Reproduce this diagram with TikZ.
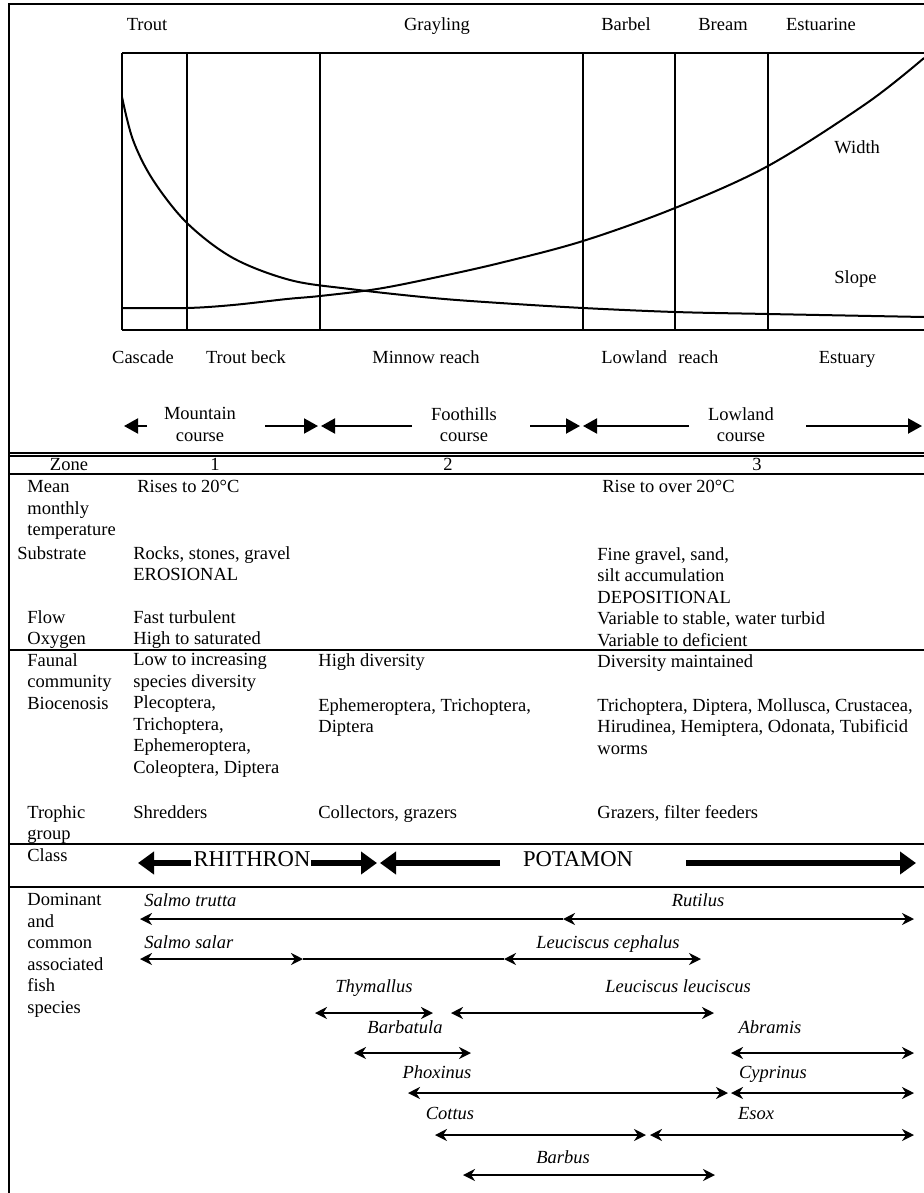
\documentclass[tikz,border=0pt]{standalone}
\usepackage{fontspec}
\setmainfont{Liberation Serif}
\usetikzlibrary{arrows.meta}

\newcommand{\txtsize}{\fontsize{9.25}{10.75}\selectfont}

\tikzset{
  rowlabel/.style={anchor=north west, align=left, inner sep=0pt},
  cell/.style={anchor=north west, align=left, inner sep=0pt},
  headtext/.style={anchor=base, inner sep=0pt},
  coursetext/.style={anchor=north, align=center, inner sep=0pt},
  fishname/.style={anchor=base, inner sep=0pt, font=\txtsize\itshape},
  classtext/.style={anchor=base, inner sep=0pt, font=\fontsize{11.3}{13}\selectfont},
  course/.style={line width=1pt, -{Triangle[length=7pt,width=7.5pt]}},
  classarrow/.style={line width=3pt, -{Triangle[length=8pt,width=11pt]}},
  fishrange/.style={line width=1.2pt, {Stealth[length=6pt,width=6pt]}-{Stealth[length=6pt,width=6pt]}},
  fishrangeleft/.style={line width=1.2pt, -{Stealth[length=6pt,width=6pt]}},
  rule/.style={line width=1pt},
}

\begin{document}
\begin{tikzpicture}[x=0.5pt, y=-0.5pt, font=\txtsize]

	\useasboundingbox (0,0) rectangle (924,1193);
	\draw[line width=1.3pt] (9,1193) -- (9,4) -- (924,4);

	% fish zones over the profile
	\node[headtext] (trout) at (147,31) {Trout};
	\node[headtext] (grayling) at (437,31) {Grayling};
	\node[headtext] (barbel) at (626,31) {Barbel};
	\node[headtext] (bream) at (723,31) {Bream};
	\node[headtext] (estuarine) at (821,31) {Estuarine};

	% profile box
	\draw[line width=1.2pt] (122,53) -- (924,53);
	\draw[rule] (122,330) -- (924,330);
	\foreach \xx in {122,187,320,583,675,768}
		\draw[rule] (\xx,53) -- (\xx,330);

	% slope and width
	\draw[rule] plot[smooth, tension=0.55] coordinates {(122,97) (133,140) (153,180) (187,223) (233,258) (290,280) (350,289) (433,298) (500,303) (583,308) (675,312) (768,314) (924,317)};
	\draw[rule] plot[smooth, tension=0.55] coordinates {(122,308) (187,308) (233,305) (287,299) (320,296) (377,289) (433,278) (500,263) (583,241) (675,208) (768,166) (867,103) (924,58)};
	\node[anchor=base west, inner sep=0pt] (width) at (834,154) {Width};
	\node[anchor=base west, inner sep=0pt] (slope) at (834,283) {Slope};

	% reaches
	\node[headtext] (cascade) at (143,363) {Cascade};
	\node[headtext] (troutbeck) at (246,363) {Trout beck};
	\node[headtext] (minnow) at (426,363) {Minnow reach};
	\node[anchor=base west, inner sep=0pt] (lowreach) at (601,363) {Lowland\hspace{0.6em}reach};
	\node[headtext] (estuary) at (847,363) {Estuary};

	% courses
	\node[coursetext] (mountain) at (200,407) {Mountain\\course};
	\node[coursetext] (foothills) at (464,407) {Foothills\\course};
	\node[coursetext] (lowland) at (741,407) {Lowland\\course};
	\coordinate (m0) at (124,426);
	\coordinate (m1) at (147,426);
	\coordinate (m2) at (265,426);
	\coordinate (m3) at (318,426);
	\coordinate (f0) at (321,426);
	\coordinate (f1) at (412,426);
	\coordinate (f2) at (530,426);
	\coordinate (f3) at (580,426);
	\coordinate (l0) at (583,426);
	\coordinate (l1) at (689,426);
	\coordinate (l2) at (806,426);
	\coordinate (l3) at (922,426);
	\draw[course] (m1) -- (m0);
	\draw[course] (m2) -- (m3);
	\draw[course] (f1) -- (f0);
	\draw[course] (f2) -- (f3);
	\draw[course] (l1) -- (l0);
	\draw[course] (l2) -- (l3);

	% table rules
	\draw[line width=0.6pt] (9,453) -- (924,453);
	\draw[line width=0.6pt] (9,456) -- (924,456);
	\draw[line width=0.8pt] (9,474) -- (924,474);
	\draw[rule] (9,650) -- (924,650);
	\draw[rule] (9,844) -- (924,844);
	\draw[line width=1.3pt] (9,887) -- (924,887);

	% zone row
	\node[headtext] (zone) at (69,470) {Zone};
	\node[headtext] (z1) at (215,470) {1};
	\node[headtext] (z2) at (448,470) {2};
	\node[headtext] (z3) at (757,470) {3};

	% row labels
	\node[rowlabel] (temp) at (27,480) {Mean\\monthly\\temperature};
	\node[rowlabel] (subs) at (17,546) {Substrate};
	\node[rowlabel] (flow) at (27,610) {Flow\\Oxygen};
	\node[rowlabel] (fauna) at (27,653) {Faunal\\community\\Biocenosis};
	\node[rowlabel] (trophic) at (27,805) {Trophic\\group};
	\node[rowlabel] (class) at (27,848) {Class};
	\node[rowlabel] (fish) at (27,893) {Dominant\\and\\common\\associated\\fish\\species};

	% zone 1
	\node[cell] (temp1) at (137,480) {Rises to 20°C};
	\node[cell] (subs1) at (133,546) {Rocks, stones, gravel\\EROSIONAL};
	\node[cell] (flow1) at (133,610) {Fast turbulent\\High to saturated};
	\node[cell] (fauna1) at (133,653) {Low to increasing\\species diversity\\Plecoptera,\\Trichoptera,\\Ephemeroptera,\\Coleoptera, Diptera};
	\node[cell] (trophic1) at (133,805) {Shredders};

	% zone 2
	\node[cell] (fauna2) at (318,653) {High diversity};
	\node[cell] (bio2) at (318,698) {Ephemeroptera, Trichoptera,\\Diptera};
	\node[cell] (trophic2) at (318,805) {Collectors, grazers};

	% zone 3
	\node[cell] (temp3) at (602,480) {Rise to over 20°C};
	\node[cell] (subs3) at (597,547) {Fine gravel, sand,\\silt accumulation\\DEPOSITIONAL\\Variable to stable, water turbid\\Variable to deficient};
	\node[cell] (fauna3) at (597,654) {Diversity maintained};
	\node[cell] (bio3) at (597,698) {Trichoptera, Diptera, Mollusca, Crustacea,\\Hirudinea, Hemiptera, Odonata, Tubificid\\worms};
	\node[cell] (trophic3) at (597,805) {Grazers, filter feeders};

	% class
	\node[classtext] (rhithron) at (252,866) {RHITHRON};
	\node[classtext] (potamon) at (578,866) {POTAMON};
	\coordinate (r0) at (138,863);
	\coordinate (r1) at (191,863);
	\coordinate (r2) at (311,863);
	\coordinate (r3) at (377,863);
	\coordinate (p0) at (380,863);
	\coordinate (p1) at (500,863);
	\coordinate (p2) at (686,863);
	\coordinate (p3) at (916,863);
	\draw[classarrow] (r1) -- (r0);
	\draw[classarrow] (r2) -- (r3);
	\draw[classarrow] (p1) -- (p0);
	\draw[classarrow] (p2) -- (p3);

	% fish species ranges
	\node[fishname, anchor=base west] (trutta) at (144,906) {Salmo trutta};
	\node[fishname] (rutilus) at (698,906) {Rutilus};
	\coordinate (st) at (140,919);
	\coordinate (ru1) at (563,919);
	\coordinate (ru2) at (914,919);
	\draw[fishrangeleft] (ru1) -- (st);
	\draw[fishrange] (ru1) -- (ru2);

	\node[fishname, anchor=base west] (salar) at (144,948) {Salmo salar};
	\node[fishname] (cephalus) at (608,948) {Leuciscus cephalus};
	\coordinate (ss1) at (140,959);
	\coordinate (ss2) at (303,959);
	\coordinate (lc1) at (504,959);
	\coordinate (lc2) at (701,959);
	\draw[fishrange] (ss1) -- (ss2);
	\draw[line width=1.2pt] (ss2) -- (lc1);
	\draw[fishrange] (lc1) -- (lc2);

	\node[fishname] (thymallus) at (374,992) {Thymallus};
	\node[fishname] (leuciscus) at (678,992) {Leuciscus leuciscus};
	\coordinate (th1) at (315,1013);
	\coordinate (th2) at (433,1013);
	\coordinate (ll1) at (451,1013);
	\coordinate (ll2) at (714,1013);
	\draw[fishrange] (th1) -- (th2);
	\draw[fishrange] (ll1) -- (ll2);

	\node[fishname] (barbatula) at (405,1033) {Barbatula};
	\node[fishname] (abramis) at (770,1033) {Abramis};
	\coordinate (ba1) at (354,1053);
	\coordinate (ba2) at (471,1053);
	\coordinate (ab1) at (731,1053);
	\coordinate (ab2) at (914,1053);
	\draw[fishrange] (ba1) -- (ba2);
	\draw[fishrange] (ab1) -- (ab2);

	\node[fishname] (phoxinus) at (437,1078) {Phoxinus};
	\node[fishname] (cyprinus) at (773,1078) {Cyprinus};
	\coordinate (ph1) at (408,1093);
	\coordinate (ph2) at (728,1093);
	\coordinate (cy1) at (731,1093);
	\coordinate (cy2) at (914,1093);
	\draw[fishrange] (ph1) -- (ph2);
	\draw[fishrange] (cy1) -- (cy2);

	\node[fishname] (cottus) at (450,1119) {Cottus};
	\node[fishname] (esox) at (756,1119) {Esox};
	\coordinate (co1) at (435,1135);
	\coordinate (co2) at (646,1135);
	\coordinate (es1) at (650,1135);
	\coordinate (es2) at (914,1135);
	\draw[fishrange] (co1) -- (co2);
	\draw[fishrange] (es1) -- (es2);

	\node[fishname] (barbus) at (563,1163) {Barbus};
	\coordinate (bb1) at (463,1175);
	\coordinate (bb2) at (715,1175);
	\draw[fishrange] (bb1) -- (bb2);

\end{tikzpicture}
\end{document}
